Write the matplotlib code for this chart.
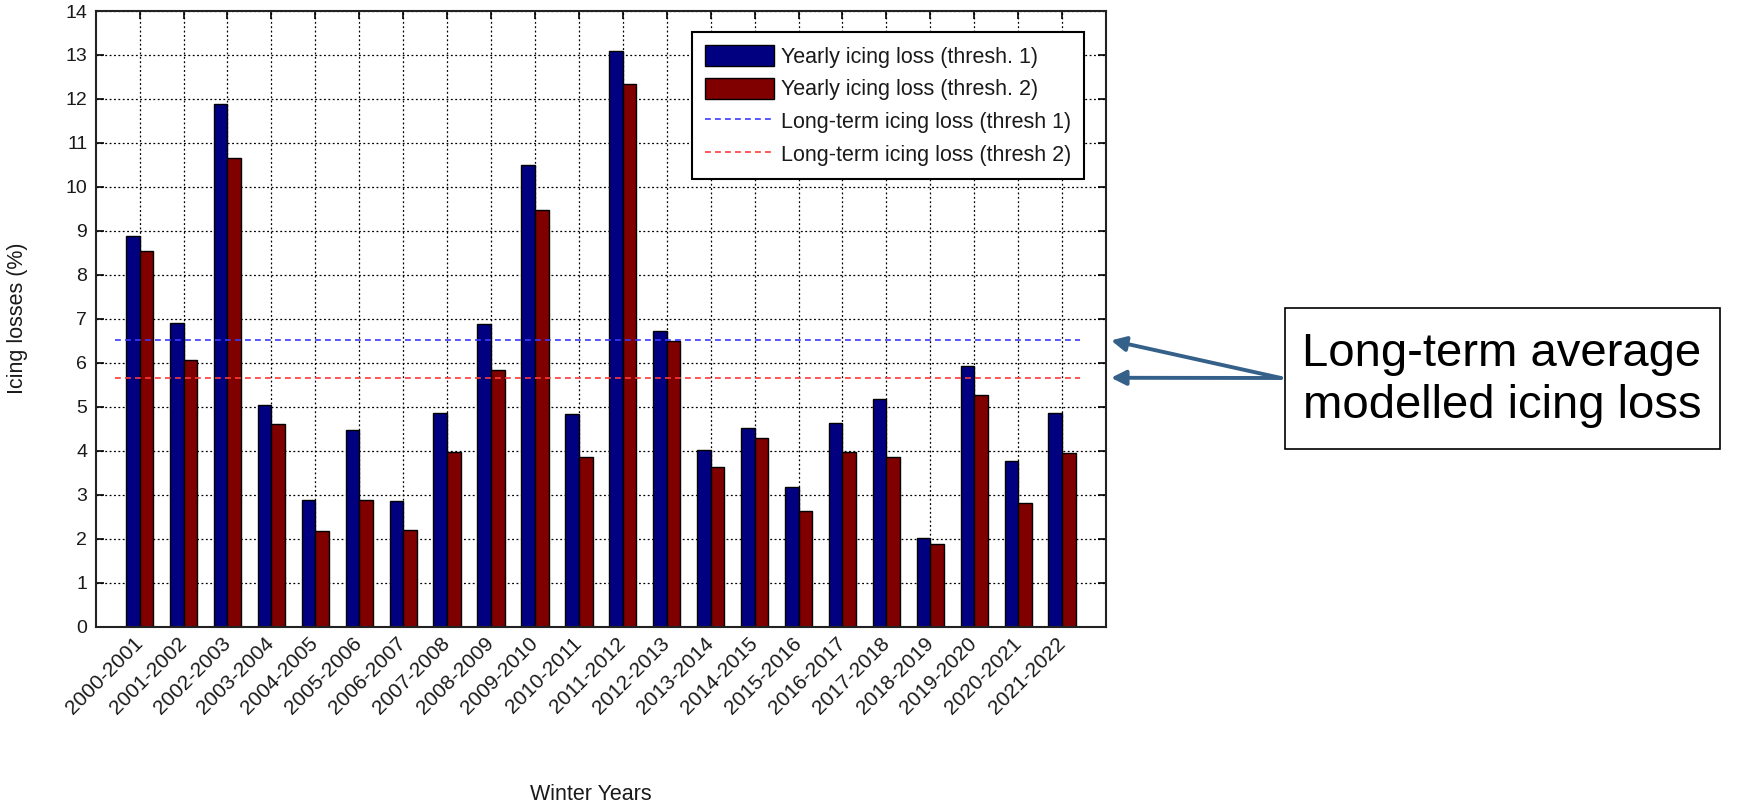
import matplotlib
matplotlib.use("Agg")
import matplotlib.pyplot as plt
from matplotlib.patches import Rectangle
import numpy as np

plt.rcParams['font.family'] = ['Liberation Sans', 'DejaVu Sans']

# winter seasons and yearly icing losses (%)
years = ['2000-2001', '2001-2002', '2002-2003', '2003-2004', '2004-2005', '2005-2006',
         '2006-2007', '2007-2008', '2008-2009', '2009-2010', '2010-2011', '2011-2012',
         '2012-2013', '2013-2014', '2014-2015', '2015-2016', '2016-2017', '2017-2018',
         '2018-2019', '2019-2020', '2020-2021', '2021-2022']
loss_thresh1 = [8.89, 6.90, 11.89, 5.05, 2.89, 4.47, 2.86, 4.85, 6.88, 10.49, 4.83,
                13.08, 6.72, 4.02, 4.51, 3.17, 4.64, 5.17, 2.02, 5.92, 3.77, 4.87]
loss_thresh2 = [8.55, 6.06, 10.66, 4.60, 2.17, 2.89, 2.20, 3.98, 5.84, 9.47, 3.85,
                12.33, 6.49, 3.64, 4.30, 2.62, 3.98, 3.85, 1.89, 5.27, 2.81, 3.94]
longterm_thresh1 = 6.51
longterm_thresh2 = 5.66

W, H = 1742, 808
fig = plt.figure(figsize=(W / 100, H / 100), dpi=100)
ax = fig.add_axes([95.7 / W, 1 - 626.7 / H, (1106 - 95.7) / W, (626.7 - 11) / H])

x = np.arange(1, len(years) + 1)
w = 0.31
b1 = ax.bar(x - w / 2, loss_thresh1, w, color='#000080', edgecolor='k', lw=1,
            label='Yearly icing loss (thresh. 1)', zorder=2)
b2 = ax.bar(x + w / 2, loss_thresh2, w, color='#800000', edgecolor='k', lw=1,
            label='Yearly icing loss (thresh. 2)', zorder=2)
l1 = ax.hlines(longterm_thresh1, 0.45, 22.4, colors='#3a3aff', lw=1.2, linestyles=(0, (3.5, 2.5)),
               label='Long-term icing loss (thresh 1)', zorder=3)
l2 = ax.hlines(longterm_thresh2, 0.45, 22.4, colors='#ff3a3a', lw=1.2, linestyles=(0, (3.5, 2.5)),
               label='Long-term icing loss (thresh 2)', zorder=3)

ax.set_xlim(0, 23)
ax.set_ylim(0, 14)
ax.set_yticks(range(0, 15))
ax.set_xticks(x)
ax.set_xticklabels(years, rotation=45, ha='right', va='center', rotation_mode='anchor')
ax.tick_params(direction='in', top=True, right=True, length=6, width=1.2,
               labelsize=14, labelcolor='#1a1a1a')
ax.tick_params(axis='y', pad=6)
ax.tick_params(axis='x', pad=10, labelsize=15)
ax.grid(True, linestyle=(0, (1.5, 2)), color='k', lw=0.9)
ax.set_axisbelow(True)
for s in ax.spines.values():
    s.set_linewidth(1.5)
    s.set_color('#222222')

leg = ax.legend([b1, b2, l1, l2], [b1.get_label(), b2.get_label(), l1.get_label(), l2.get_label()],
                loc='upper right', bbox_to_anchor=(0.978, 0.966), borderaxespad=0,
                fontsize=15.5, handlelength=3.2, handleheight=1.15, labelspacing=0.45,
                handletextpad=0.3, borderpad=0.6, fancybox=False, framealpha=1)
leg.get_frame().set_edgecolor('k')
leg.get_frame().set_linewidth(1.5)
for t in leg.get_texts():
    t.set_color('#1a1a1a')

fig.text(18 / W, 1 - 318 / H, 'Icing losses (%)', rotation=90, ha='center', va='center',
         fontsize=15.5, color='#1a1a1a')
fig.text(591 / W, 1 - 795 / H, 'Winter Years', ha='center', va='center',
         fontsize=15.5, color='#1a1a1a')

# annotation box on the right
fig.patches.append(Rectangle((1285 / W, 1 - 449 / H), 435 / W, 141 / H,
                             transform=fig.transFigure, fill=False, ec='k', lw=1.2))
fig.text(1502 / W, 1 - 380 / H, 'Long-term average\nmodelled icing loss', ha='center',
         va='center', fontsize=34, linespacing=1.22, color='k')
for yv in [longterm_thresh1, longterm_thresh2]:
    ax.annotate('', xy=(1.005, yv), xycoords=('axes fraction', 'data'),
                xytext=(1281 / W, 1 - 378 / H), textcoords='figure fraction',
                arrowprops=dict(arrowstyle='-|>', color='#35608a', lw=2.8,
                                mutation_scale=22, shrinkA=0, shrinkB=0))

fig.savefig('out.png', dpi=100)
